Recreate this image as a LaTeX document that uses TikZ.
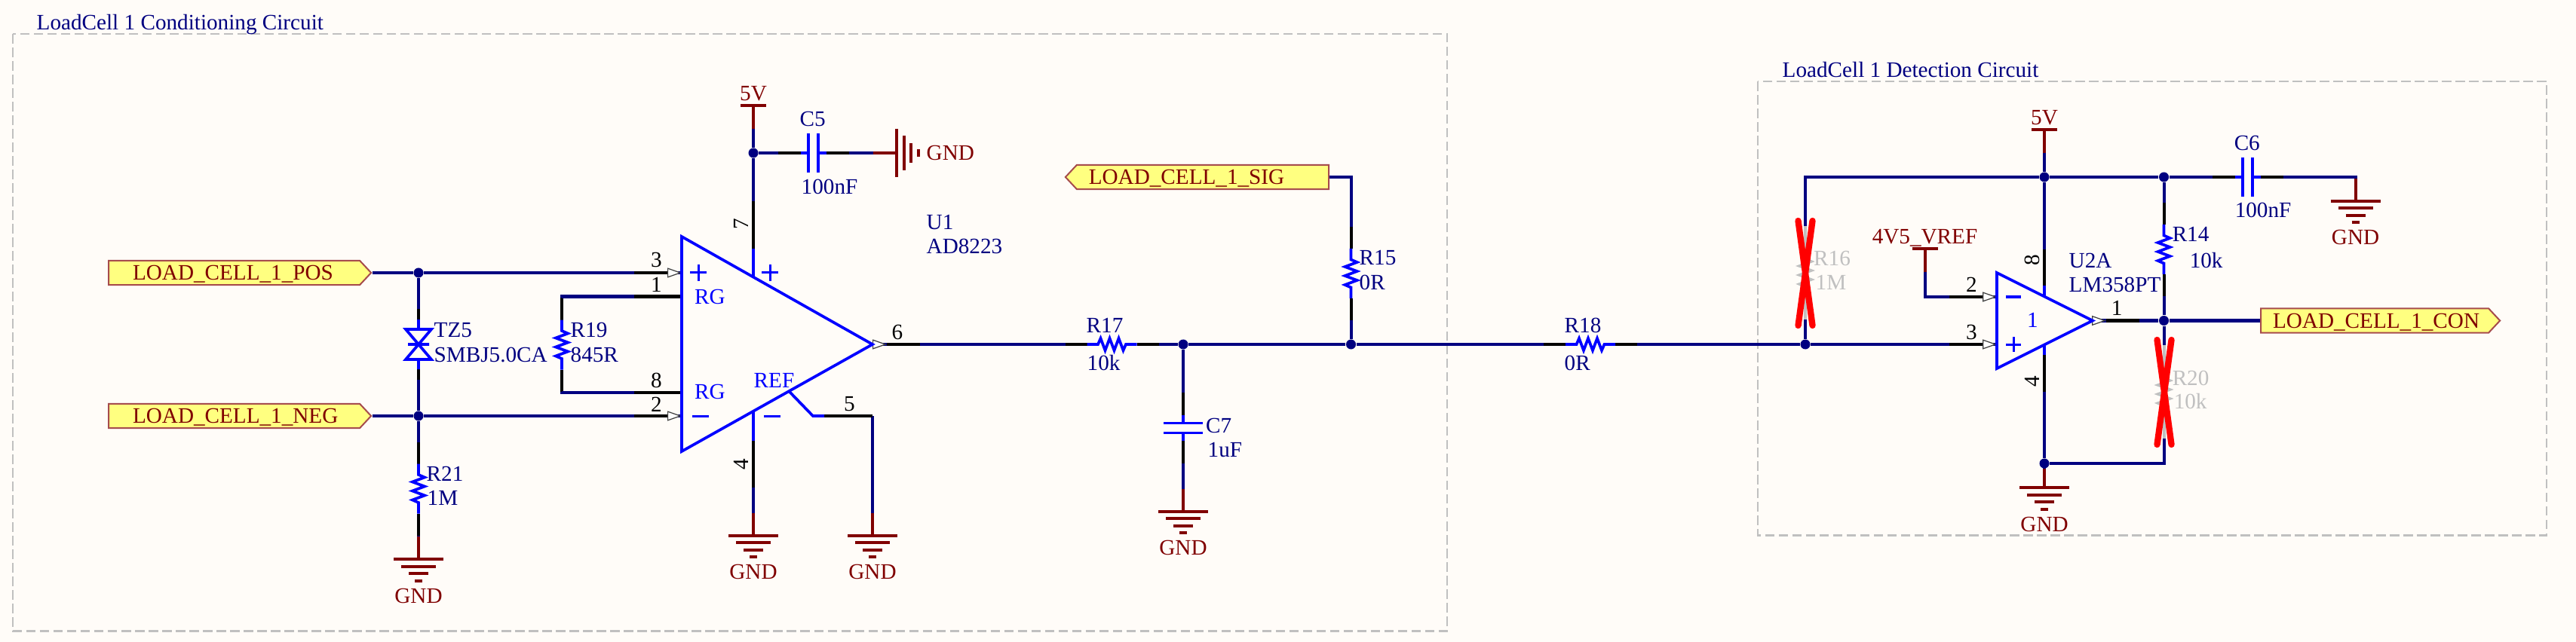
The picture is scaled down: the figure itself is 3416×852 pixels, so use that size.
\documentclass[tikz,border=0pt]{standalone}
\usepackage{fontspec}
\setmainfont{Liberation Serif}
\usetikzlibrary{positioning,calc,arrows.meta,shapes.symbols}
\definecolor{paper}{RGB}{255,252,248}
\definecolor{wirenavy}{RGB}{0,0,128}
\definecolor{bodyblue}{RGB}{0,0,255}
\definecolor{portred}{RGB}{128,0,0}
\definecolor{tagfill}{RGB}{255,255,128}
\definecolor{framegray}{RGB}{192,192,192}
\newcommand{\schfont}{\fontsize{8.3}{10}\selectfont}

\begin{document}
\begin{tikzpicture}[x=0.01cm,y=-0.01cm,font=\schfont,
        wire line/.style={draw=wirenavy, line width=.04cm},
        pin line/.style={draw=black, line width=.04cm},
        body line/.style={draw=bodyblue, line width=.037cm},
        port line/.style={draw=portred, line width=.04cm},
        sign line/.style={draw=bodyblue, line width=.03cm},
        cross line/.style={draw=red, line width=.083cm, line cap=round},
        frame line/.style={draw=framegray, line width=.027cm, dash pattern=on .125cm off .055cm},
        pin tip/.style={-{Triangle[length=.19cm,width=.13cm,fill=white,line width=.35pt,color=black!75]}},
        dot node/.style={circle, fill=wirenavy, inner sep=0, minimum size=.13cm},
        text node/.style={anchor=base west, inner sep=0, text=wirenavy},
        body node/.style={anchor=base west, inner sep=0, text=bodyblue},
        port node/.style={anchor=base, inner sep=0, text=portred},
        pin node/.style={anchor=base, inner sep=0, text=black},
        turn node/.style={anchor=center, inner sep=0, text=black, rotate=90},
        off node/.style={anchor=base west, inner sep=0, text=framegray},
        tag node/.style={signal, signal from=nowhere, draw=portred!70, line width=.02cm, fill=tagfill, text=portred,
            text height=5.5pt, text depth=0pt,
            minimum height=.32cm, inner ysep=0, inner xsep=.16cm, signal pointer angle=94, anchor=west, align=left},
        res/.pic={
            \coordinate (-a) at (-62,0);
            \coordinate (-b) at (62,0);
            \draw[pin line] (-a) -- (-33,0) (33,0) -- (-b);
            \draw[body line] (-33,0) -- (-18.5,0) -- (-15,-8) -- (-9,8) -- (-3,-8) -- (3,8) -- (9,-8) -- (15,8) -- (18.5,0) -- (33,0);
        },
        cap/.pic={
            \coordinate (-a) at (-47,0);
            \coordinate (-b) at (47,0);
            \draw[pin line] (-a) -- (-17,0) (17,0) -- (-b);
            \draw[body line] (-17,0) -- (-6.5,0) (-6.5,-26) -- (-6.5,26) (6.5,-26) -- (6.5,26) (6.5,0) -- (17,0);
        },
        tvs/.pic={
            \coordinate (-a) at (0,-47);
            \coordinate (-b) at (0,47);
            \draw[pin line] (-a) -- (0,-33) (0,33) -- (-b);
            \draw[body line] (0,-33) -- (0,-20) (-17,-20) -- (17,-20) -- (0,0) -- cycle (-14,0) -- (14,0) (0,0) -- (-17,20) -- (17,20) -- cycle (0,20) -- (0,33);
        },
        gnd/.pic={
            \coordinate (-in) at (0,-30);
            \draw[port line] (-in) -- (0,0) (-33,0) -- (33,0) (-23,9.5) -- (23,9.5) (-13,19) -- (13,19) (-5,28.5) -- (5,28.5);
            \node[port node] (-txt) at (0,58) {GND};
        },
        gnd side/.pic={
            \coordinate (-in) at (-31,0);
            \draw[port line] (-in) -- (0,0) (0,-32) -- (0,32) (9.5,-23) -- (9.5,23) (19,-13) -- (19,13) (28.5,-5) -- (28.5,5);
            \node[port node, anchor=base west] (-txt) at (39,10) {GND};
        },
        pwr/.pic={
            \coordinate (-in) at (0,31);
            \draw[port line] (-in) -- (0,0) (-17,0) -- (17,0);
            \node[port node] (-txt) at (0,-6.5) {\tikzpictext};
        }]

\fill[paper] (0,0) rectangle (3416,852);

\draw[frame line] (17,45) rectangle (1919,837.5);
\draw[frame line] (2331,108) rectangle (3377,710.5);
\node[text node] (title1) at (48,40) {LoadCell 1 Conditioning Circuit};
\node[text node] (title2) at (2363,102.5) {LoadCell 1 Detection Circuit};

\coordinate (u1a) at (904,314);
\coordinate (u1b) at (904,599);
\coordinate (u1c) at (1157,457);
\coordinate (u1p3) at (904,362);
\coordinate (u1p1) at (904,393.5);
\coordinate (u1p8) at (904,520.5);
\coordinate (u1p2) at (904,552);
\coordinate (u1p7) at (999,368);
\coordinate (u1p4) at (999,545.5);
\coordinate (u1p5) at (1047,520);
\coordinate (u1k) at (1078,552);
\coordinate (u1e) at (1157,552);

\node[dot node] (j1) at (555,362) {};
\node[dot node] (j2) at (555,552) {};
\node[dot node] (j3) at (999,203) {};
\node[dot node] (j4) at (1569,457) {};
\node[dot node] (j5) at (1791.5,457) {};
\node[dot node] (j6) at (2394,457) {};
\node[dot node] (j7) at (2711,235) {};
\node[dot node] (j8) at (2869.5,235) {};
\node[dot node] (j9) at (2869.5,425.5) {};
\node[dot node] (j10) at (2711,615) {};

\node[tag node, signal to=east, text width=2.69cm, inner xsep=.32cm] (pos) at (143,362) {LOAD\_CELL\_1\_POS};
\node[tag node, signal to=east, text width=2.69cm, inner xsep=.32cm] (neg) at (143,552) {LOAD\_CELL\_1\_NEG};
\node[tag node, signal to=west, text width=3.02cm] (sig) at (1411.5,235) {LOAD\_CELL\_1\_SIG};
\node[tag node, signal to=east, text width=2.70cm] (con) at (2997,425.5) {LOAD\_CELL\_1\_CON};

\pic (tz5) at (555,457) {tvs};
\pic[rotate=-90] (r19) at (745,457.5) {res};
\pic[rotate=-90] (r21) at (555,648.5) {res};
\pic (r17) at (1474.5,457) {res};
\pic (r18) at (2109,457) {res};
\pic[rotate=-90] (r15) at (1791.5,363) {res};
\pic[rotate=-90] (r14) at (2869.5,331) {res};
\pic (c5) at (1078.5,203) {cap};
\pic (c6) at (2980.5,235) {cap};
\pic[rotate=-90] (c7) at (1569,568) {cap};

\begin{scope}[pin line/.style={draw=framegray, line width=.04cm},body line/.style={draw=framegray, line width=.035cm}]
\pic[rotate=-90] (r16) at (2394,362) {res};
\pic[rotate=-90] (r20) at (2869.5,520) {res};
\end{scope}

\pic (g1) at (555,742) {gnd};
\pic (g2) at (999,710.5) {gnd};
\pic (g3) at (1157,710.5) {gnd};
\pic (g4) at (1569,678.5) {gnd};
\pic (g5) at (2711,647) {gnd};
\pic (g6) at (3123.5,267) {gnd};
\pic (g7) at (1189,203) {gnd side};
\pic[pic text=5V] (v1) at (999,140) {pwr};
\pic[pic text=5V] (v2) at (2711,172) {pwr};
\pic[pic text=4V5\_VREF] (v3) at (2552.5,330) {pwr};

\coordinate (u2a) at (2648,362);
\coordinate (u2b) at (2648,489);
\coordinate (u2c) at (2775,425.5);
\coordinate (u2p2) at (2648,394);
\coordinate (u2p3) at (2648,457);
\coordinate (u2p8) at (2711,393);
\coordinate (u2p4) at (2711,458);

\draw[wire line] (pos.east) -- (j1) -- (u1p3);
\draw[wire line] (neg.east) -- (j2) -- (u1p2);
\draw[wire line] (j1) -- (tz5-a);
\draw[wire line] (tz5-b) -- (j2);
\draw[wire line] (j2) -- (r21-a);
\draw[wire line] (r21-b) -- (g1-in);
\draw[wire line] (u1p1) -| (r19-a);
\draw[wire line] (u1p8) -| (r19-b);
\draw[wire line] (v1-in) -- (j3) -- (u1p7);
\draw[wire line] (j3) -- (c5-a);
\draw[wire line] (c5-b) -- (g7-in);
\draw[wire line] (u1p4) -- (g2-in);
\draw[wire line] (u1e) -- (g3-in);
\draw[wire line] (u1c) -- (r17-a);
\draw[wire line] (r17-b) -- (j4) -- (j5) -- (r18-a);
\draw[wire line] (j4) -- (c7-a);
\draw[wire line] (c7-b) -- (g4-in);
\draw[wire line] (sig.east) -| (r15-a);
\draw[wire line] (r15-b) -- (j5);
\draw[wire line] (r18-b) -- (j6) -- (u2p3);
\draw[wire line] (j6) -- (r16-b);
\draw[wire line] (r16-a) |- (j7);
\draw[wire line] (v2-in) -- (j7) -- (u2p8);
\draw[wire line] (j7) -- (j8) -- (c6-a);
\draw[wire line] (c6-b) -| (g6-in);
\draw[wire line] (j8) -- (r14-a);
\draw[wire line] (r14-b) -- (j9) -- (con.west);
\draw[wire line] (u2c) -- (j9);
\draw[wire line] (j9) -- (r20-a);
\draw[wire line] (r20-b) |- (j10);
\draw[wire line] (u2p4) -- (j10) -- (g5-in);
\draw[wire line] (v3-in) |- (u2p2);

\draw[pin line, pin tip] ($(u1p3)+(-63,0)$) -- (u1p3);
\draw[pin line, pin tip] ($(u1p2)+(-63,0)$) -- (u1p2);
\draw[pin line] ($(u1p1)+(-63,0)$) -- (u1p1);
\draw[pin line] ($(u1p8)+(-63,0)$) -- (u1p8);
\draw[pin line] ($(u1p7)+(0,-100.5)$) -- ($(u1p7)+(0,-38)$);
\draw[pin line] ($(u1p4)+(0,39)$) -- ($(u1p4)+(0,101.5)$);
\draw[pin line] ($(u1c)+(19,0)$) -- ($(u1c)+(63,0)$);
\draw[pin line, pin tip] (u1c) -- ($(u1c)+(19,0)$);
\draw[pin line] (u1k) ++(15,0) -- (u1e);

\draw[body line] (u1a) -- (u1c) -- (u1b) -- cycle;
\draw[body line] (u1p7) -- ($(u1p7)+(0,-38)$);
\draw[body line] (u1p4) -- ($(u1p4)+(0,39)$);
\draw[body line] (u1p5) -- (u1k) -- ($(u1k)+(15,0)$);
\draw[sign line] (915,362) -- (937,362) (926,351) -- (926,373);
\draw[sign line] (1010,362) -- (1032,362) (1021,351) -- (1021,373);
\draw[sign line] (918,552) -- (940,552);
\draw[sign line] (1013,552) -- (1035,552);

\draw[pin line, pin tip] ($(u2p2)+(-63,0)$) -- (u2p2);
\draw[pin line, pin tip] ($(u2p3)+(-63,0)$) -- (u2p3);
\draw[pin line] ($(u2p8)+(0,-62)$) -- ($(u2p8)+(0,-14)$);
\draw[pin line] ($(u2p4)+(0,13)$) -- ($(u2p4)+(0,62)$);
\draw[pin line] ($(u2c)+(18,0)$) -- ($(u2c)+(62,0)$);
\draw[pin line, pin tip] (u2c) -- ($(u2c)+(18,0)$);

\draw[body line] (u2a) -- (u2c) -- (u2b) -- cycle;
\draw[body line] (u2p8) -- ($(u2p8)+(0,-14)$);
\draw[body line] (u2p4) -- ($(u2p4)+(0,13)$);
\draw[sign line] (2660,394) -- (2680,394);
\draw[sign line] (2660,457) -- (2680,457) (2670,447) -- (2670,467);

\draw[cross line] (2384.5,293) -- (2403.5,432);
\draw[cross line] (2403.5,293) -- (2384.5,432);
\draw[cross line] (2860.5,451) -- (2879.5,590);
\draw[cross line] (2879.5,451) -- (2860.5,590);

\node[text node] (tz5a) at (575,448) {TZ5};
\node[text node] (tz5b) at (575,480) {SMBJ5.0CA};
\node[text node] (r19a) at (756,448) {R19};
\node[text node] (r19b) at (756,480) {845R};
\node[text node] (r21a) at (565,638.5) {R21};
\node[text node] (r21b) at (566,670.5) {1M};
\node[text node] (c5a) at (1060,168) {C5};
\node[text node] (c5b) at (1062,257.5) {100nF};
\node[text node] (u1a1) at (1228,304.5) {U1};
\node[text node] (u1a2) at (1228,336.5) {AD8223};
\node[text node] (r17a) at (1440,441) {R17};
\node[text node] (r17b) at (1441,491.5) {10k};
\node[text node] (r15a) at (1802,352) {R15};
\node[text node] (r15b) at (1802,384) {0R};
\node[text node] (c7a) at (1598.5,574) {C7};
\node[text node] (c7b) at (1601,606) {1uF};
\node[text node] (r18a) at (2074,441) {R18};
\node[text node] (r18b) at (2074,491.5) {0R};
\node[text node] (c6a) at (2962,200) {C6};
\node[text node] (c6b) at (2963,288.5) {100nF};
\node[text node] (r14a) at (2880,321) {R14};
\node[text node] (r14b) at (2903,355.5) {10k};
\node[text node] (u2a1) at (2743,355.5) {U2A};
\node[text node] (u2a2) at (2743,387.5) {LM358PT};
\node[off node] (r16a) at (2404.5,352.5) {R16};
\node[off node] (r16b) at (2407,384) {1M};
\node[off node] (r20a) at (2880,511) {R20};
\node[off node] (r20b) at (2882,542.5) {10k};

\node[body node] (rg1) at (920.5,403) {RG};
\node[body node] (rg2) at (920.5,529.5) {RG};
\node[body node] (ref) at (999,514) {REF};
\node[body node, anchor=base] (u2n) at (2695.5,435) {1};

\node[pin node] (n3) at (870.5,355) {3};
\node[pin node] (n1) at (870.5,387) {1};
\node[pin node] (n8) at (870.5,514) {8};
\node[pin node] (n2) at (870.5,546) {2};
\node[turn node] (n7) at (983,297) {7};
\node[turn node] (n4) at (983,616) {4};
\node[pin node] (n5) at (1126.5,545) {5};
\node[pin node] (n6) at (1190,450.5) {6};
\node[pin node] (m2) at (2614.5,387.5) {2};
\node[pin node] (m3) at (2614.5,450) {3};
\node[turn node] (m8) at (2695,345) {8};
\node[turn node] (m4) at (2695,506) {4};
\node[pin node] (m1) at (2807,418.5) {1};

\end{tikzpicture}
\end{document}
